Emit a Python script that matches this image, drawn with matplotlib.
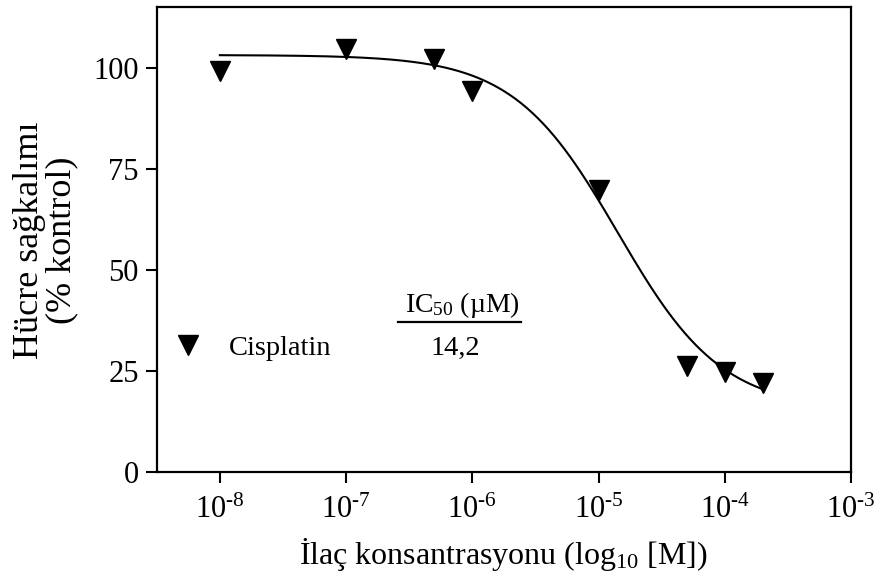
import numpy as np
import matplotlib.pyplot as plt
from matplotlib.lines import Line2D

plt.rcParams['font.family'] = ['Liberation Serif', 'DejaVu Serif']
plt.rcParams['mathtext.fontset'] = 'custom'
plt.rcParams['mathtext.rm'] = 'Liberation Serif'
plt.rcParams['mathtext.it'] = 'Liberation Serif:italic'
plt.rcParams['mathtext.bf'] = 'Liberation Serif:bold'

# measured points (drug concentration in M, survival in % of control)
conc = [1e-8, 1e-7, 5e-7, 1e-6, 1e-5, 5e-5, 1e-4, 2e-4]
survival = [99.3, 104.8, 102.2, 94.2, 69.7, 26.4, 24.7, 22.0]

# fitted dose-response curve (4 parameter logistic)
top = 103.2
bottom = 15.4
log_ic50 = np.log10(14.2e-6)
hill = 1.05
ic50_label = '14,2'

xticks = [1e-8, 1e-7, 1e-6, 1e-5, 1e-4, 1e-3]
xticklabels = ['10$^{\\text{-8}}$', '10$^{\\text{-7}}$', '10$^{\\text{-6}}$',
               '10$^{\\text{-5}}$', '10$^{\\text{-4}}$', '10$^{\\text{-3}}$']
yticks = [0, 25, 50, 75, 100]

fig = plt.figure(figsize=(8.78, 5.84), dpi=100)
ax = fig.add_axes([0.1785, 0.1913, 0.7907, 0.7962])

logx = np.linspace(np.log10(conc[0]), np.log10(conc[-1]), 300)
fit = bottom + (top - bottom) / (1 + 10 ** ((logx - log_ic50) * hill))
ax.plot(10 ** logx, fit, color='black', lw=1.5)

pts, = ax.plot(conc, survival, 'v', color='black', markersize=14, linestyle='none',
               label='Cisplatin')

ax.set_xscale('log')
ax.set_xlim(10 ** -8.5, 1e-3)
ax.set_ylim(0, 115)
ax.set_xticks(xticks)
ax.set_xticklabels(xticklabels)
ax.minorticks_off()
ax.set_yticks(yticks)
ax.tick_params(axis='both', labelsize=22, width=1.5, length=8, direction='out')
ax.tick_params(axis='x', pad=9)
ax.tick_params(axis='y', pad=5)
for s in ax.spines.values():
    s.set_linewidth(1.6)

ax.set_xlabel('İlaç konsantrasyonu (log$_{10}$ [M])', fontsize=23, labelpad=8)
ax.set_ylabel('Hücre sağkalımı\n(% kontrol)', fontsize=26, labelpad=11, linespacing=0.95)

# legend with IC50 column
ax.legend(handles=[pts], loc='center left', bbox_to_anchor=(0.024, 0.2667),
          frameon=False, fontsize=20.5, handlelength=1, handletextpad=0.95,
          borderpad=0, borderaxespad=0)
ax.text(0.44, 0.36, 'IC$_{50}$ (µM)', transform=ax.transAxes, fontsize=20,
        ha='center', va='center')
ax.add_line(Line2D([0.3475, 0.5248], [0.324, 0.324], transform=ax.transAxes,
                   color='black', lw=1.6))
ax.text(0.43, 0.2667, ic50_label, transform=ax.transAxes, fontsize=20.5,
        ha='center', va='center')

fig.savefig('out.png', dpi=100)
